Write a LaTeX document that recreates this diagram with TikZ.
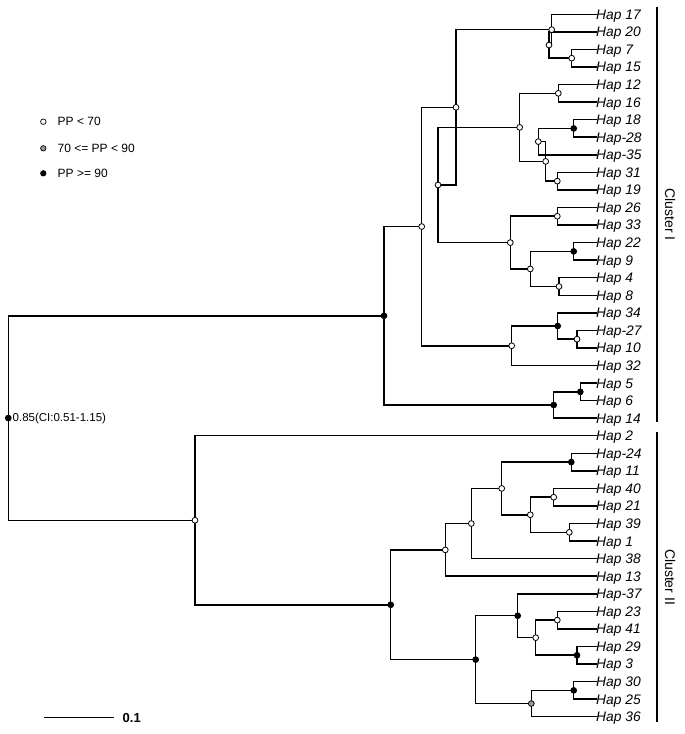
\documentclass[tikz,border=0pt]{standalone}
\usepackage{fontspec}
\setmainfont{Liberation Sans}
\pgfdeclarelayer{bg}
\pgfsetlayers{bg,main}
\begin{document}
\begin{tikzpicture}[x=1pt,y=-1pt,
  leaf/.style={anchor=west,inner sep=0pt,text height=9.9pt,text depth=0pt,font=\fontsize{13.8}{16}\selectfont\itshape},
  br/.style={line width=1.5pt,line cap=rect},
  nd/.style={circle,draw=black,line width=0.8pt,minimum size=5.8pt,inner sep=0pt},
  opn/.style={nd,fill=white},
  blk/.style={nd,fill=black},
  gry/.style={nd,fill=gray!80},
  lg/.style={anchor=west,inner sep=0pt,font=\fontsize{12}{14}\selectfont},
  bar/.style={line width=2pt}]
\path[use as bounding box] (0,0) rectangle (685,734);
% leaves
\foreach \n/\t [count=\i from 0] in {l17/Hap 17,l20/Hap 20,l7/Hap 7,l15/Hap 15,l12/Hap 12,l16/Hap 16,l18/Hap 18,l28/Hap-28,l35/Hap-35,l31/Hap 31,l19/Hap 19,l26/Hap 26,l33/Hap 33,l22/Hap 22,l9/Hap 9,l4/Hap 4,l8/Hap 8,l34/Hap 34,l27/Hap-27,l10/Hap 10,l32/Hap 32,l5/Hap 5,l6/Hap 6,l14/Hap 14,l2/Hap 2,l24/Hap-24,l11/Hap 11,l40/Hap 40,l21/Hap 21,l39/Hap 39,l1/Hap 1,l38/Hap 38,l13/Hap 13,l37/Hap-37,l23/Hap 23,l41/Hap 41,l29/Hap 29,l3/Hap 3,l30/Hap 30,l25/Hap 25,l36/Hap 36}
  \node[leaf] (\n) at (596,{14.3+17.56*\i}) {\t};
% internal nodes, cluster I
\node[opn] (n715) at (571.7,58.2) {};
\node[opn] (n20) at (549,45.03) {};
\node[opn] (n17) at (551.7,29.67) {};
\node[opn] (n1216) at (558.3,93.32) {};
\node[blk] (n1828) at (573.7,128.44) {};
\node[opn] (n35) at (538.3,141.61) {};
\node[opn] (n3119) at (557.3,181.12) {};
\node[opn] (n35b) at (545.7,161.37) {};
\node[opn] (nB) at (519.7,127.35) {};
\node[opn] (n2633) at (557.3,216.24) {};
\node[blk] (n229) at (573.7,251.36) {};
\node[opn] (n48) at (559,286.48) {};
\node[opn] (n2298) at (530.3,268.92) {};
\node[opn] (nC) at (510.3,242.58) {};
\node[opn] (nBC) at (438,184.97) {};
\node[opn] (nABC) at (456,107.32) {};
\node[opn] (n2710) at (577,339.16) {};
\node[blk] (n34) at (557.7,325.99) {};
\node[opn] (nD) at (511.7,345.75) {};
\node[opn] (nABCD) at (421.7,226.54) {};
\node[blk] (n56) at (580.3,391.84) {};
\node[blk] (n14) at (553.7,405.01) {};
\node[blk] (nI) at (384,315.78) {};
% cluster II
\node[blk] (n2411) at (571.3,462.08) {};
\node[opn] (n4021) at (553.7,497.2) {};
\node[opn] (n391) at (569.3,532.32) {};
\node[opn] (n40391) at (530.3,514.76) {};
\node[opn] (n24) at (501.7,488.42) {};
\node[opn] (n38) at (471.3,523.54) {};
\node[opn] (nE) at (445.3,549.88) {};
\node[opn] (n2341) at (557.3,620.12) {};
\node[blk] (n293) at (577,655.24) {};
\node[opn] (n23293) at (535.7,637.68) {};
\node[blk] (n37) at (517.7,615.73) {};
\node[blk] (n3025) at (573.7,690.36) {};
\node[gry] (n36) at (531.3,703.53) {};
\node[blk] (nF) at (475.7,659.63) {};
\node[blk] (nEF) at (390.7,604.76) {};
\node[opn] (nII) at (195,520.25) {};
\node[blk] (root) at (8.3,418.02) {};
% branches
\begin{pgfonlayer}{bg}
\foreach \p/\c in {n17/l17,n20/l20,n715/l7,n715/l15,n1216/l12,n1216/l16,n1828/l18,n1828/l28,n35/l35,n3119/l31,n3119/l19,n2633/l26,n2633/l33,n229/l22,n229/l9,n48/l4,n48/l8,n2710/l27,n2710/l10,n34/l34,nD/l32,n56/l5,n56/l6,n14/l14,n2411/l24,n2411/l11,n4021/l40,n4021/l21,n391/l39,n391/l1,n38/l38,nE/l13,n2341/l23,n2341/l41,n293/l29,n293/l3,n37/l37,n3025/l30,n3025/l25,n36/l36,nII/l2}
  \draw[br] (\p.center) |- (\c.west);
\foreach \p/\c in {n17/n20,n20/n715,n35/n1828,n35b/n35,n35b/n3119,nB/n1216,nB/n35b,n2298/n229,n2298/n48,nC/n2633,nC/n2298,nBC/nB,nBC/nC,nABC/n17,nABC/nBC,n34/n2710,nD/n34,nABCD/nABC,nABCD/nD,n14/n56,nI/nABCD,nI/n14,n24/n2411,n24/n40391,n40391/n4021,n40391/n391,n38/n24,nE/n38,n23293/n2341,n23293/n293,n37/n23293,n36/n3025,nF/n37,nF/n36,nEF/nE,nEF/nF,nII/nEF,root/nI,root/nII}
  \draw[br] (\p.center) |- (\c.center);
\end{pgfonlayer}
% cluster bars and labels
\coordinate (b1t) at (656.7,7.3);
\coordinate (b1b) at (656.7,422.3);
\coordinate (b2t) at (656.7,431.7);
\coordinate (b2b) at (656.7,722.3);
\draw[bar] (b1t) -- (b1b);
\draw[bar] (b2t) -- (b2b);
\node[rotate=-90,inner sep=0pt,font=\fontsize{14}{16}\selectfont] (cl1) at (670,214.8) {Cluster I};
\node[rotate=-90,inner sep=0pt,font=\fontsize{14}{16}\selectfont] (cl2) at (670,577) {Cluster II};
% legend
\node[opn,minimum size=5.5pt,line width=0.7pt] (k1) at (43.3,121.7) {};
\node[lg] (k1t) at (57.5,121.7) {PP < 70};
\node[gry,minimum size=5.5pt,line width=0.7pt] (k2) at (43.3,148.3) {};
\node[lg] (k2t) at (57.5,148.3) {70 <= PP < 90};
\node[blk,minimum size=5.5pt,line width=0.7pt] (k3) at (43.3,173.3) {};
\node[lg] (k3t) at (57.5,173.3) {PP >= 90};
% root label
\node[anchor=west,inner sep=0pt,font=\fontsize{11.5}{13}\selectfont] (rl) at (12.5,418.5) {0.85(CI:0.51-1.15)};
% scale bar
\coordinate (s1) at (44.3,717.3);
\coordinate (s2) at (114.3,717.3);
\draw[line width=1.3pt] (s1) -- (s2);
\node[anchor=west,inner sep=0pt,font=\bfseries\fontsize{13}{15}\selectfont] (sl) at (122.5,718) {0.1};
\end{tikzpicture}
\end{document}
